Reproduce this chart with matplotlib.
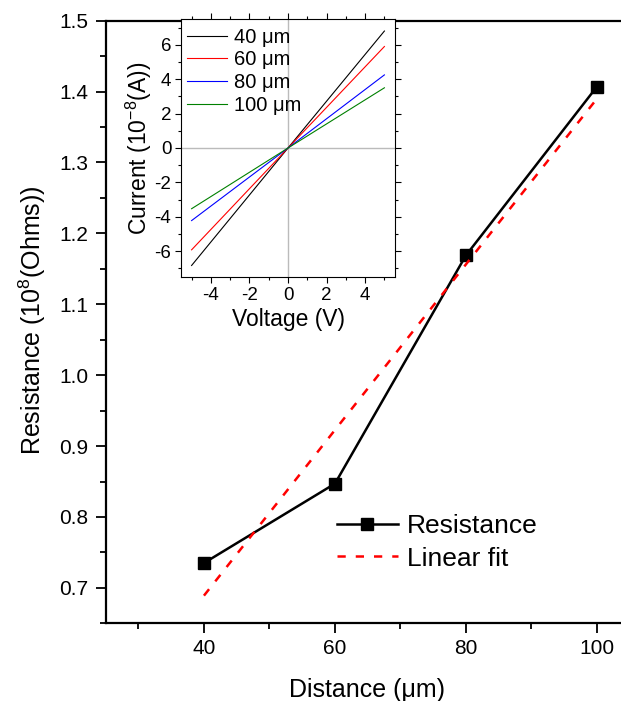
import numpy as np
import matplotlib
matplotlib.use('Agg')
import matplotlib.pyplot as plt
from matplotlib.ticker import MultipleLocator, FormatStrFormatter

# main plot: resistance vs channel distance
distance = [40, 60, 80, 100]
resistance = [0.735, 0.847, 1.169, 1.407]
fit_x = [40, 100]
fit_y = [0.689, 1.390]

# inset: I-V curves (straight lines through origin)
voltage = [-5, 0, 5]
iv_labels = ['40 μm', '60 μm', '80 μm', '100 μm']
iv_current = [
    [-6.83, 0.0, 6.80],
    [-5.92, 0.0, 5.90],
    [-4.22, 0.0, 4.25],
    [-3.53, 0.0, 3.50],
]
iv_colors = ['black', 'red', 'blue', 'green']

plt.rcParams.update({
    'font.family': ['Liberation Sans', 'DejaVu Sans'],
    'mathtext.default': 'regular',
    'axes.unicode_minus': False,
})

W, H = 621, 701
fig = plt.figure(figsize=(W / 100, H / 100), dpi=100)

# main axes (right spine falls off the image like the original)
ax = fig.add_axes([105.7 / W, 1 - 623.3 / H, 524 / W, 602.6 / H])
ax.plot(distance, resistance, color='black', lw=1.8, marker='s', ms=9,
        label='Resistance')
ax.plot(fit_x, fit_y, color='red', lw=1.8, dashes=(3.3, 4), label='Linear fit')
ax.set_xlim(25, 105)
ax.set_ylim(0.65, 1.5)
ax.xaxis.set_major_locator(MultipleLocator(20))
ax.xaxis.set_minor_locator(MultipleLocator(10))
ax.yaxis.set_major_locator(MultipleLocator(0.1))
ax.yaxis.set_minor_locator(MultipleLocator(0.05))
ax.yaxis.set_major_formatter(FormatStrFormatter('%.1f'))
ax.tick_params(which='major', direction='out', length=7.5, width=1.3,
               labelsize=15)
ax.tick_params(axis='x', which='major', pad=3.5)
ax.tick_params(axis='y', which='major', pad=5)
ax.tick_params(which='minor', direction='out', length=4, width=1.3)
for s in ['left', 'bottom', 'top']:
    ax.spines[s].set_linewidth(1.6)
ax.spines['right'].set_visible(False)
ax.set_xlabel('Distance (μm)', fontsize=18)
ax.set_ylabel('Resistance (10$^8$(Ohms))', fontsize=18)
ax.xaxis.set_label_coords((367 - 105.7) / 524, -0.09)
ax.yaxis.set_label_coords(-0.11, (623.3 - 320) / 602.6)
ax.legend(loc='upper left', bbox_to_anchor=((337 - 105.7) / 524, 0.181),
          frameon=False, fontsize=19, handlelength=2.3, handletextpad=0.35,
          borderpad=0, borderaxespad=0, labelspacing=0.32)

# inset axes
ins = fig.add_axes([181 / W, 1 - 277 / H, 214 / W, 258 / H])
ins.axhline(0, color='#bbbbbb', lw=1.0, zorder=0)
ins.axvline(0, color='#bbbbbb', lw=1.0, zorder=0)
for cur, lab, col in zip(iv_current, iv_labels, iv_colors):
    ins.plot(voltage, cur, color=col, lw=0.8, label=lab)
ins.set_xlim(-5.55, 5.55)
ins.set_ylim(-7.5, 7.5)
ins.xaxis.set_major_locator(MultipleLocator(2))
ins.xaxis.set_minor_locator(MultipleLocator(1))
ins.yaxis.set_major_locator(MultipleLocator(2))
ins.yaxis.set_minor_locator(MultipleLocator(1))
ins.tick_params(which='both', direction='out', top=True, right=True, width=0.8)
ins.tick_params(which='major', length=4, labelsize=13.5, pad=3)
ins.tick_params(which='minor', length=2.2)
for s in ins.spines.values():
    s.set_linewidth(0.8)
ins.set_xlabel('Voltage (V)', fontsize=16.5, labelpad=3)
ins.set_ylabel('Current (10$^{-8}$(A))', fontsize=16.5, labelpad=0)
ins.legend(loc='upper left', bbox_to_anchor=(0.028, 0.966), frameon=False,
           fontsize=14.5, handlelength=2.0, handletextpad=0.35, borderpad=0,
           borderaxespad=0, labelspacing=0.18)

fig.savefig('out.png', dpi=100)
